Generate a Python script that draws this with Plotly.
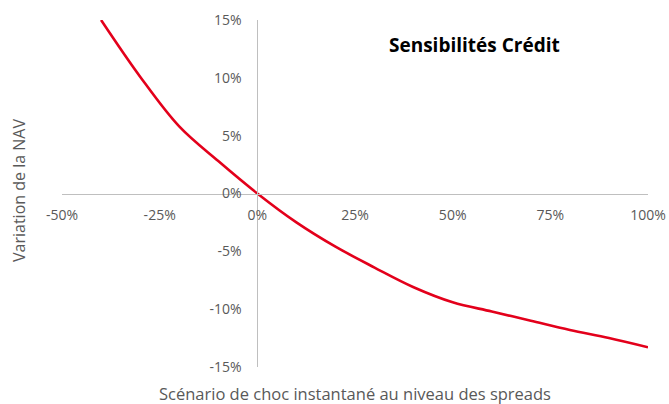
import plotly.graph_objects as go

# Data
shock_pct = [-40, -30, -20, -10, 0, 10, 20, 30, 40, 50, 60, 70, 80, 90, 100]
nav_var_pct = [15.0, 10.1, 5.8, 2.8, 0.0, -2.5, -4.6, -6.4, -8.1, -9.4, -10.2, -11.0, -11.8, -12.5, -13.3]

x_ticks = [-50, -25, 0, 25, 50, 75, 100]
x_tick_labels = ["-50%", "-25%", "0%", "25%", "50%", "75%", "100%"]
y_ticks = [-15, -10, -5, 0, 5, 10, 15]
y_tick_labels = ["-15%", "-10%", "-5%", "0%", "5%", "10%", "15%"]

title_text = "Sensibilités Crédit"
x_title = "Scénario de choc instantané au niveau des spreads"
y_title = "Variation de la NAV"

W, H = 669, 404
L, R, T, B = 62, 21, 20, 37
pw, ph = W - L - R, H - T - B

def px_x(p):
    return (p - L) / pw

def px_y(p):
    return (H - B - p) / ph

axis_color = "#BFBFBF"
label_color = "#595959"
font_family = "Open Sans"

fig = go.Figure()
fig.add_trace(go.Scatter(
    x=shock_pct, y=nav_var_pct, mode="lines",
    line=dict(color="#E3001B", width=2.6, shape="spline", smoothing=1.0),
    hoverinfo="skip",
))

fig.update_layout(
    width=W, height=H,
    margin=dict(l=L, r=R, t=T, b=B, autoexpand=False),
    paper_bgcolor="white", plot_bgcolor="white",
    showlegend=False,
    font=dict(family=font_family, color=label_color, size=12),
    xaxis=dict(
        range=[-50, 100], tickvals=x_ticks, ticktext=x_tick_labels,
        showgrid=False, zeroline=False, showline=True, linecolor=axis_color, linewidth=1,
        ticks="", anchor="free", position=0.5, ticklabelstandoff=9, automargin=False,
        tickfont=dict(size=14, color=label_color, family=font_family),
        fixedrange=True,
    ),
    yaxis=dict(
        range=[-15, 15], tickvals=y_ticks, ticktext=y_tick_labels,
        showgrid=False, zeroline=False, showline=True, linecolor=axis_color, linewidth=1,
        ticks="", anchor="free", position=1/3, ticklabelstandoff=13, automargin=False,
        tickfont=dict(size=14, color=label_color, family=font_family),
        fixedrange=True,
    ),
    annotations=[
        dict(text=title_text, xref="paper", yref="paper", x=px_x(474), y=px_y(45),
             xanchor="center", yanchor="middle", showarrow=False,
             font=dict(family=font_family, size=19, color="black", weight="bold")),
        dict(text=x_title, xref="paper", yref="paper", x=px_x(355), y=px_y(393),
             xanchor="center", yanchor="middle", showarrow=False,
             font=dict(family=font_family, size=16.5, color=label_color)),
        dict(text=y_title, xref="paper", yref="paper", x=px_x(19), y=px_y(191),
             xanchor="center", yanchor="middle", showarrow=False, textangle=-90,
             font=dict(family=font_family, size=16, color=label_color)),
    ],
)

fig.write_html(
    "out.html",
    config={"displayModeBar": False, "staticPlot": True},
    post_script="document.body.style.margin='0';document.body.style.overflow='hidden';",
)
